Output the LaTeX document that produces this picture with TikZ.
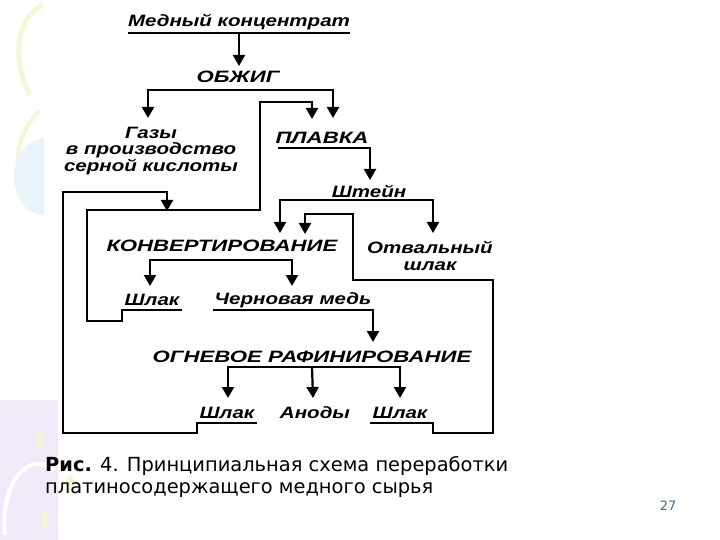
\documentclass[tikz,border=0pt]{standalone}
\usepackage{fontspec}
\usetikzlibrary{arrows.meta}
\newfontfamily\diagfont[FakeStretch=1.25]{Liberation Sans}
\newfontfamily\diagcapsfont[FakeStretch=1.35]{Liberation Sans}
\newfontfamily\capfont{DejaVu Sans}
\definecolor{pgnum}{HTML}{3A6F86}
\definecolor{paleyel}{HTML}{F3F7D6}
\definecolor{paleblue}{HTML}{E8F4FA}
\definecolor{palelav}{HTML}{F1E9F8}
\tikzset{
  lbl/.style={inner sep=0pt, font=\diagfont\bfseries\itshape\fontsize{16.5}{17.5}\selectfont, align=center},
  lblc/.style={inner sep=0pt, font=\diagcapsfont\bfseries\itshape\fontsize{16.5}{17.5}\selectfont, align=center},
  ln/.style={line width=2.2bp, line join=miter},
  arr/.style={ln, -{Triangle[length=11bp,width=12bp]}},
  ul/.style={line width=1.4bp}
}
\begin{document}
\begin{tikzpicture}[x=1bp,y=-1bp]
\fill[white] (0,0) rectangle (720,540);
\useasboundingbox (0,0) rectangle (720,540);
% faint background decorations
\draw[paleyel, line width=5bp] (42,5) .. controls (15,20) and (12,60) .. (30,95);
\draw[paleyel, line width=4bp] (40,110) .. controls (20,130) and (10,160) .. (25,190);
\fill[paleblue] (44,215) arc (90:270:30 and 38) -- cycle;
\fill[palelav] (0,400) rectangle (58,540);
\draw[white, line width=4bp] (5,535) .. controls (0,480) and (30,450) .. (55,470);
\fill[paleyel] (40,440) ellipse (4 and 9);
\fill[paleyel] (70,485) ellipse (4 and 10);
\fill[paleyel] (45,520) ellipse (3 and 9);

% nodes
\node[lbl] (mk) at (239,22) {Медный концентрат};
\node[lblc] (ob) at (238,77) {ОБЖИГ};
\node[lbl, font=\diagfont\bfseries\itshape\fontsize{16.5}{16.5}\selectfont] (gaz) at (151,151) {Газы\\в производство\\серной кислоты};
\node[lblc] (pl) at (322,138) {ПЛАВКА};
\node[lbl] (sht) at (369,191) {Штейн};
\node[lblc] (konv) at (222,246) {КОНВЕРТИРОВАНИЕ};
\node[lbl] (otv) at (430,256) {Отвальный\\шлак};
\node[lbl] (shl1) at (152,300) {Шлак};
\node[lbl] (chm) at (293,300) {Черновая медь};
\node[lblc] (ogn) at (312,357) {ОГНЕВОЕ РАФИНИРОВАНИЕ};
\node[lbl] (shl2) at (227,413) {Шлак};
\node[lbl] (an) at (315,413) {Аноды};
\node[lbl] (shl3) at (400,413) {Шлак};

% underline of the title
\draw[ul] (128,33) -- (350,33);

% coordinates
\coordinate (a1s) at (239,34);
\coordinate (a1e) at (239,66);
\coordinate (b1) at (238,90);
\coordinate (tgaz) at (148,118);
\coordinate (tpl1) at (312,119);
\coordinate (tpl2) at (333,118);
\coordinate (plu) at (278,148);
\coordinate (tsht) at (370,180);
\coordinate (b2) at (369,200);
\coordinate (tk1) at (280,233);
\coordinate (tk2) at (305,234);
\coordinate (totv) at (433,233);
\coordinate (b3) at (222,260);
\coordinate (tsl1) at (150,286);
\coordinate (tchm) at (292,286);
\coordinate (chu) at (213,310);
\coordinate (togn) at (373,342);
\coordinate (b4) at (312,367);
\coordinate (tsl2) at (228,398);
\coordinate (tan) at (313,398);
\coordinate (tsl3) at (400,398);
\coordinate (s1u) at (182,310);
\coordinate (s2u) at (257,423);
\coordinate (s3u) at (370,423);
\coordinate (tret) at (167,211);

% connectors
\draw[arr] (a1s) -- (a1e);
\draw[arr] (b1) -| (tgaz);
\draw[arr] (b1) -| (tpl2);
\draw[arr] (s1u) -- (122,310) -- (122,321) -- (87,321) -- (87,210) -- (260,210) -- (260,102) -| (tpl1);
\draw[arr] (plu) -- (370,148) -- (tsht);
\draw[arr] (b2) -| (tk1);
\draw[arr] (b2) -| (totv);
\draw[arr] (s3u) -- (433,423) -- (433,433) -- (493,433) -- (493,280) -- (353,280) -- (353,214) -| (tk2);
\draw[arr] (s2u) -- (197,423) -- (197,433) -- (63,433) -- (63,192) -| (tret);
\draw[arr] (b3) -| (tsl1);
\draw[arr] (b3) -| (tchm);
\draw[arr] (chu) -- (373,310) -- (togn);
\draw[arr] (b4) -| (tsl2);
\draw[arr] (b4) -- (tan);
\draw[arr] (b4) -| (tsl3);

% caption
\node[anchor=base west, inner sep=0pt, font=\capfont\fontsize{19.5}{22}\selectfont] (cap1) at (45,471) {\textbf{Рис.} 4. Принципиальная схема переработки};
\node[anchor=base west, inner sep=0pt, font=\capfont\fontsize{19.5}{22}\selectfont] (cap2) at (45,493) {платиносодержащего медного сырья};
\node[anchor=base, inner sep=0pt, font=\capfont\fontsize{13}{15}\selectfont, text=pgnum] (pg) at (668,510) {27};
\end{tikzpicture}
\end{document}
